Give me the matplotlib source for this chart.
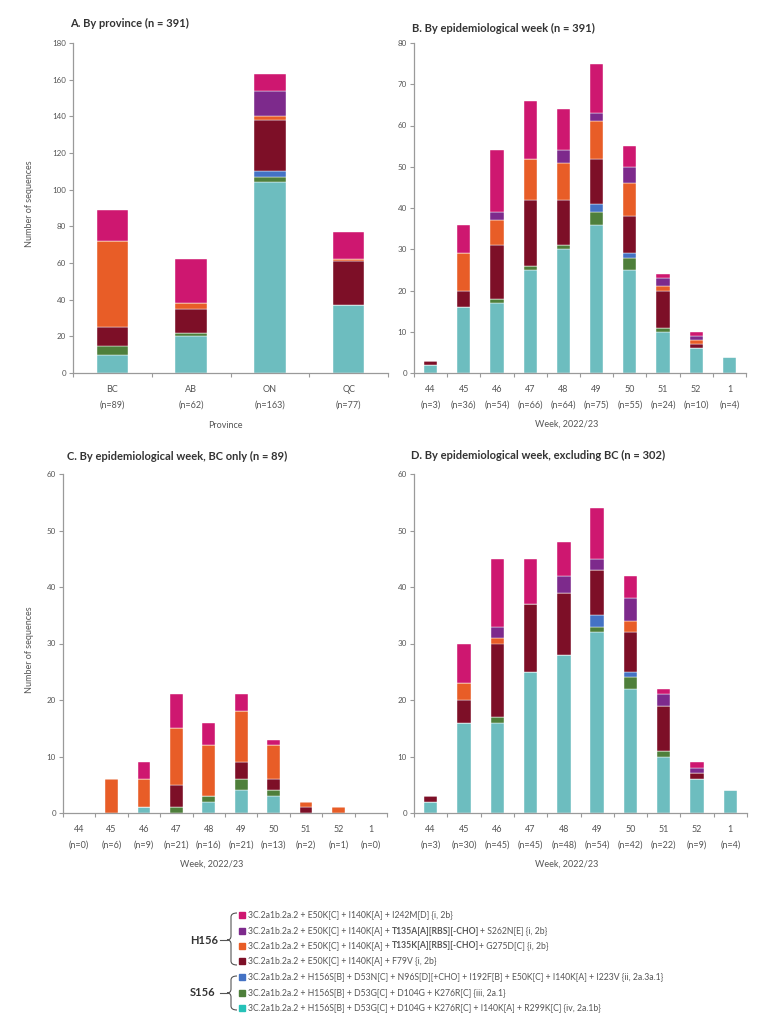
import numpy as np
import matplotlib
matplotlib.use("Agg")
import matplotlib.pyplot as plt
from matplotlib.path import Path
from matplotlib.patches import PathPatch, Rectangle

plt.rcParams['font.family'] = ['Lato', 'DejaVu Sans']

# Series, bottom to top
series = ['iv', 'iii', 'ii', 'F79V', 'T135K', 'T135A', 'I242M']
colors = ['#6DBDBF', '#4E7F3B', '#4472C4', '#7D0F27', '#E85D27', '#7D2A8C', '#CE1770']

# Panel A: by province
provinces = ['BC', 'AB', 'ON', 'QC']
prov_n = [89, 62, 163, 77]
prov_vals = {
    'iv':    [10, 20, 104, 37],
    'iii':   [5, 2, 3, 0],
    'ii':    [0, 0, 3, 0],
    'F79V':  [10, 13, 28, 24],
    'T135K': [47, 3, 2, 1],
    'T135A': [0, 0, 14, 0],
    'I242M': [17, 24, 9, 15],
}

weeks = ['44', '45', '46', '47', '48', '49', '50', '51', '52', '1']

# Panel B: all provinces by week
all_n = [3, 36, 54, 66, 64, 75, 55, 24, 10, 4]
all_vals = {
    'iv':    [2, 16, 17, 25, 30, 36, 25, 10, 6, 4],
    'iii':   [0, 0, 1, 1, 1, 3, 3, 1, 0, 0],
    'ii':    [0, 0, 0, 0, 0, 2, 1, 0, 0, 0],
    'F79V':  [1, 4, 13, 16, 11, 11, 9, 9, 1, 0],
    'T135K': [0, 9, 6, 10, 9, 9, 8, 1, 1, 0],
    'T135A': [0, 0, 2, 0, 3, 2, 4, 2, 1, 0],
    'I242M': [0, 7, 15, 14, 10, 12, 5, 1, 1, 0],
}

# Panel C: BC only
bc_n = [0, 6, 9, 21, 16, 21, 13, 2, 1, 0]
bc_vals = {
    'iv':    [0, 0, 1, 0, 2, 4, 3, 0, 0, 0],
    'iii':   [0, 0, 0, 1, 1, 2, 1, 0, 0, 0],
    'ii':    [0, 0, 0, 0, 0, 0, 0, 0, 0, 0],
    'F79V':  [0, 0, 0, 4, 0, 3, 2, 1, 0, 0],
    'T135K': [0, 6, 5, 10, 9, 9, 6, 1, 1, 0],
    'T135A': [0, 0, 0, 0, 0, 0, 0, 0, 0, 0],
    'I242M': [0, 0, 3, 6, 4, 3, 1, 0, 0, 0],
}

# Panel D: excluding BC
xbc_n = [3, 30, 45, 45, 48, 54, 42, 22, 9, 4]
xbc_vals = {
    'iv':    [2, 16, 16, 25, 28, 32, 22, 10, 6, 4],
    'iii':   [0, 0, 1, 0, 0, 1, 2, 1, 0, 0],
    'ii':    [0, 0, 0, 0, 0, 2, 1, 0, 0, 0],
    'F79V':  [1, 4, 13, 12, 11, 8, 7, 8, 1, 0],
    'T135K': [0, 3, 1, 0, 0, 0, 2, 0, 0, 0],
    'T135A': [0, 0, 2, 0, 3, 2, 4, 2, 1, 0],
    'I242M': [0, 7, 12, 8, 6, 9, 4, 1, 1, 0],
}

W, H = 777, 1026
fig = plt.figure(figsize=(W / 100, H / 100), dpi=100)
grey = '#9a9a9a'
tcol = '#555555'


def px_axes(l, r, top, bot):
    return fig.add_axes([l / W, 1 - bot / H, (r - l) / W, (bot - top) / H])


def stacked(ax, cats, ns, vals, ymax, ystep, width=0.4):
    x = np.arange(len(cats))
    bottom = np.zeros(len(cats))
    for s, c in zip(series, colors):
        v = np.array(vals[s], dtype=float)
        ax.bar(x, v, width, bottom=bottom, color=c, edgecolor='white', linewidth=0.3)
        bottom += v
    ax.set_xlim(-0.5, len(cats) - 0.5)
    ax.set_ylim(0, ymax)
    ax.set_yticks(np.arange(0, ymax + 1, ystep))
    ax.set_xticks(x)
    ax.set_xticklabels([f'{c}\n(n={n})' for c, n in zip(cats, ns)], linespacing=1.9)
    ax.set_xticks(np.arange(len(cats) + 1) - 0.5, minor=True)
    ax.tick_params(axis='x', which='major', length=0, pad=9, labelsize=6.5, labelcolor=tcol)
    ax.tick_params(axis='x', which='minor', length=3, color=grey, width=0.8)
    ax.tick_params(axis='y', length=3, color=grey, width=0.8, pad=2, labelsize=5.8, labelcolor=tcol)
    for sp in ['top', 'right']:
        ax.spines[sp].set_visible(False)
    for sp in ['left', 'bottom']:
        ax.spines[sp].set_color(grey)
        ax.spines[sp].set_linewidth(0.9)


axA = px_axes(73, 388, 43, 373)
stacked(axA, provinces, prov_n, prov_vals, 180, 20)
axB = px_axes(414, 746, 43, 373)
stacked(axB, weeks, all_n, all_vals, 80, 10)
axC = px_axes(63, 387, 474, 813)
stacked(axC, weeks, bc_n, bc_vals, 60, 10)
axD = px_axes(414, 747, 474, 813)
stacked(axD, weeks, xbc_n, xbc_vals, 60, 10)


def ftext(x, y, s, **kw):
    return fig.text(x / W, 1 - y / H, s, **kw)


tkw = dict(fontsize=8, fontweight='bold', color='#333333', va='center', ha='left')
ftext(70, 23, 'A. By province (n = 391)', **tkw)
ftext(412, 28, 'B. By epidemiological week (n = 391)', **tkw)
ftext(67, 456, 'C. By epidemiological week, BC only (n = 89)', **tkw)
ftext(411, 455, 'D. By epidemiological week, excluding BC (n = 302)', **tkw)

lkw = dict(fontsize=6.5, color=tcol, va='center', ha='center')
ftext(225, 425, 'Province', **lkw)
ftext(567, 424, 'Week, 2022/23', **lkw)
ftext(212, 864, 'Week, 2022/23', **lkw)
ftext(567, 864, 'Week, 2022/23', **lkw)
ftext(30, 204, 'Number of sequences', rotation=90, **lkw)
ftext(30, 650, 'Number of sequences', rotation=90, **lkw)

# Legend
legend_rows = [
    (colors[6], [('3C.2a1b.2a.2 + E50K[C] + I140K[A] + I242M[D] {i, 2b}', 'normal')]),
    (colors[5], [('3C.2a1b.2a.2 + E50K[C] + I140K[A] + ', 'normal'),
                 ('T135A[A][RBS][-CHO]', 'bold'),
                 ('+ S262N[E] {i, 2b}', 'normal')]),
    (colors[4], [('3C.2a1b.2a.2 + E50K[C] + I140K[A] + ', 'normal'),
                 ('T135K[A][RBS][-CHO]', 'bold'),
                 ('+ G275D[C] {i, 2b}', 'normal')]),
    (colors[3], [('3C.2a1b.2a.2 + E50K[C] + I140K[A] + F79V {i, 2b}', 'normal')]),
    (colors[2], [('3C.2a1b.2a.2 + H156S[B] + D53N[C] + N96S[D][+CHO] + I192F[B] + E50K[C] + I140K[A] + I223V {ii, 2a.3a.1}', 'normal')]),
    (colors[1], [('3C.2a1b.2a.2 + H156S[B] + D53G[C] + D104G + K276R[C] {iii, 2a.1}', 'normal')]),
    ('#26C2B8', [('3C.2a1b.2a.2 + H156S[B] + D53G[C] + D104G + K276R[C] + I140K[A] + R299K[C] {iv, 2a.1b}', 'normal')]),
]
row_y = [915, 931, 946, 961, 977, 993, 1008]

fig.canvas.draw()
renderer = fig.canvas.get_renderer()
for (c, parts), y in zip(legend_rows, row_y):
    fig.patches.append(Rectangle((239 / W, 1 - (y + 3) / H), 6 / W, 6 / H,
                                 transform=fig.transFigure, color=c, figure=fig))
    x = 248
    for s, wgt in parts:
        t = ftext(x, y, s, fontsize=6.2, fontweight=wgt, color=tcol, va='center', ha='left')
        x += t.get_window_extent(renderer).width

ftext(190, 940, 'H156', fontsize=8, fontweight='bold', color='#333333', va='center', ha='left')
ftext(190, 993, 'S156', fontsize=8, fontweight='bold', color='#333333', va='center', ha='left')


def brace(top, bot, mid, xv=231, xe=237, xt=220):
    pts = [(xe, top), (xv, top), (xv, top + 4),
           (xv, mid - 4), (xv, mid), (xv - 4, mid),
           (xv, mid), (xv, mid + 4),
           (xv, bot - 4), (xv, bot), (xe, bot)]
    codes = [Path.MOVETO, Path.CURVE3, Path.CURVE3,
             Path.LINETO, Path.CURVE3, Path.CURVE3,
             Path.CURVE3, Path.CURVE3,
             Path.LINETO, Path.CURVE3, Path.CURVE3]
    verts = [(px / W, 1 - py / H) for px, py in pts]
    fig.patches.append(PathPatch(Path(verts, codes), transform=fig.transFigure,
                                 fill=False, edgecolor='#555555', linewidth=0.8, figure=fig))
    fig.lines.append(plt.Line2D([xt / W, (xv - 4) / W], [1 - mid / H, 1 - mid / H],
                                transform=fig.transFigure, color='#555555', linewidth=0.8))


brace(913, 965, 940)
brace(976, 1010, 993)

fig.savefig('out.png', dpi=100)
